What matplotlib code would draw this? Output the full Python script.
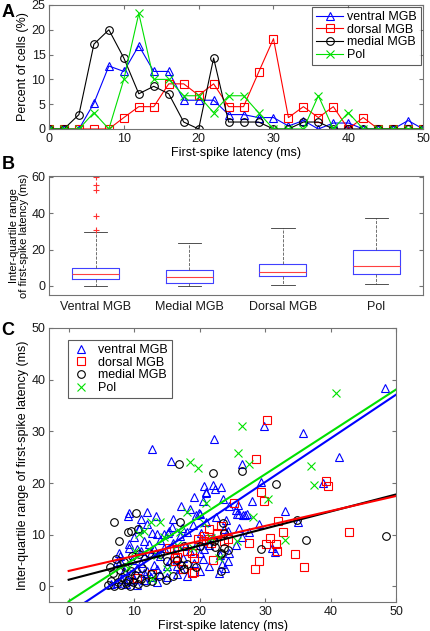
import numpy as np
import matplotlib
matplotlib.use("Agg")
import matplotlib.pyplot as plt

plt.rcParams['font.family'] = ['Liberation Sans', 'DejaVu Sans']
plt.rcParams['font.size'] = 9
plt.rcParams['axes.edgecolor'] = '0.45'
plt.rcParams['xtick.color'] = '0.45'
plt.rcParams['ytick.color'] = '0.45'
plt.rcParams['xtick.labelcolor'] = '0.1'
plt.rcParams['ytick.labelcolor'] = '0.1'
plt.rcParams['xtick.direction'] = 'in'
plt.rcParams['ytick.direction'] = 'in'
plt.rcParams['xtick.major.size'] = 3
plt.rcParams['ytick.major.size'] = 3
plt.rcParams['xtick.major.pad'] = 3
plt.rcParams['ytick.major.pad'] = 2.5

# ---------------- data ----------------
groups = ['ventral MGB', 'dorsal MGB', 'medial MGB', 'Pol']
colors = ['#0000ff', '#ff0000', '#000000', '#00e000']
markers = ['^', 's', 'o', 'x']

# Panel A: latency histogram (% of cells)
latency_bins = [0, 2, 4, 6, 8, 10, 12, 14, 16, 18, 20, 22, 24, 26, 28, 30,
                32, 34, 36, 38, 40, 42, 44, 46, 48, 50]
ventral_pct = [0, 0, 0, 5.2, 12.7, 11.6, 16.8, 11.6, 11.6, 5.8, 5.8, 5.8, 2.9,
               2.9, 2.3, 2.3, 0.6, 1.7, 0, 1.2, 1.2, 0, 0, 0, 1.7, 0]
dorsal_pct = [0, 0, 0, 0, 0, 2.3, 4.5, 4.5, 9.1, 9.1, 6.8, 9.1, 4.5,
              4.5, 11.4, 18.2, 2.3, 4.5, 2.3, 4.5, 0, 2.3, 0, 0, 0, 0]
medial_pct = [0, 0, 2.9, 17.1, 20.0, 14.3, 7.1, 8.6, 7.1, 1.4, 0, 14.3, 1.4,
              1.4, 1.4, 0, 0, 1.4, 1.4, 0, 0, 0, 0, 0, 0, 0]
pol_pct = [0, 0, 0, 3.3, 0, 10.0, 23.3, 10.0, 10.0, 6.7, 6.7, 3.3, 6.7,
           6.7, 3.3, 0, 0, 0, 6.7, 0, 3.3, 0, 0, 0, 0, 0]

# Panel B: box plot summary (ms)
box_labels = ['Ventral MGB', 'Medial MGB', 'Dorsal MGB', 'Pol']
box_q1 = [4.0, 1.8, 5.3, 6.3]
box_med = [6.3, 4.7, 7.9, 10.7]
box_q3 = [10.1, 8.7, 12.2, 19.5]
box_whislo = [0.0, -0.2, 0.7, 1.3]
box_whishi = [29.5, 23.4, 32.0, 37.2]
box_fliers = [[60.2, 55.8, 52.7, 38.3, 30.9], [], [], []]

# Panel C: latency vs IQR per cell
ventral_x = [12.8, 15.7, 22.2, 26.5, 22.1, 23.3, 22.3, 21.0, 29.9, 35.8, 41.3, 29.4,
             38.9, 48.3, 28.0, 27.2, 33.0, 35.0, 31.0, 31.5, 19.1, 20.9, 17.1, 19.9,
             19.4, 25.5, 26.0, 26.7, 15.8, 17.3, 23.7, 26.0, 20.2, 20.4, 23.1, 24.4,
             23.4, 20.5, 9.2, 10.7, 13.3, 13.5, 15.2, 9.2, 7.7, 7.8, 7.4, 20.7,
             9.0, 20.0, 10.7, 12.0, 12.8, 14.5, 15.3, 11.5, 12.2, 9.2, 10.5, 7.9,
             9.7, 11.5, 7.4, 8.7, 10.0, 11.5, 13.5, 15.0, 17.1, 19.1, 20.1, 16.1,
             17.8, 20.6, 14.0, 13.0, 25.9, 25.7, 26.9, 24.4, 23.9, 22.9, 6.5, 8.0,
             9.5, 10.5, 11.0, 12.0, 12.5, 13.0, 14.0, 15.5, 16.5, 17.5, 18.5, 19.5,
             21.5, 22.0, 12.5, 14.5, 16.0, 17.0, 18.0, 19.0, 21.0, 22.5, 24.0, 10.0,
             11.0, 8.5, 9.0, 10.5, 11.5, 13.5, 15.0, 16.5, 18.0, 20.0, 21.5, 24.5,
             25.5, 26.5, 27.5, 29.0, 14.0, 12.0, 11.0, 16.0, 18.5, 20.5, 23.5, 24.5]
ventral_y = [26.6, 24.3, 28.5, 23.7, 19.6, 19.3, 18.8, 18.3, 31.1, 29.6, 25.1, 20.3,
             20.0, 38.4, 16.6, 14.0, 14.6, 12.4, 7.5, 6.7, 17.4, 18.1, 15.6, 14.2,
             13.8, 14.8, 14.0, 13.8, 11.6, 11.4, 11.2, 11.4, 10.4, 9.1, 6.0, 4.9,
             4.4, 5.4, 14.3, 11.4, 13.6, 10.1, 10.4, 8.2, 6.5, 4.9, 4.7, 19.5,
             13.7, 14.0, 11.1, 12.0, 10.4, 10.1, 10.7, 8.8, 8.2, 7.4, 7.2, 5.9,
             5.2, 5.9, 0.7, 0.4, 1.4, 2.7, 3.3, 3.9, 3.3, 4.6, 6.5, 6.5,
             7.8, 7.2, 5.9, 7.2, 15.7, 14.0, 13.8, 10.7, 3.6, 2.7, 0.5, 1.5,
             2.5, 3.5, 4.5, 3.0, 1.8, 4.2, 2.5, 5.0, 4.0, 5.5, 6.8, 8.0,
             8.0, 9.5, 6.5, 7.5, 8.5, 9.8, 10.5, 11.8, 12.5, 13.5, 12.8, 9.5,
             6.8, 3.0, 1.0, 0.3, 1.2, 0.8, 1.8, 2.5, 2.0, 3.0, 4.0, 6.5,
             8.0, 9.5, 10.5, 12.0, 9.0, 14.5, 13.0, 13.0, 15.0, 16.5, 17.0, 15.5]

dorsal_x = [30.3, 28.6, 29.4, 39.3, 39.6, 29.8, 31.9, 32.8, 42.8, 27.6, 30.8, 30.1,
            31.6, 31.8, 34.5, 29.0, 28.5, 36.0, 25.3, 22.7, 19.8, 20.5, 22.1, 19.1,
            19.1, 16.3, 16.3, 23.3, 22.7, 24.3, 23.7, 16.6, 17.5, 18.9, 16.1, 18.1,
            18.9, 15.3, 20.7, 21.4, 21.7, 21.4, 10.5, 12.8]
dorsal_y = [32.2, 24.7, 18.3, 20.4, 19.4, 16.6, 12.6, 10.5, 10.5, 8.5, 9.3, 8.2,
            8.3, 6.9, 6.2, 5.0, 3.3, 3.7, 16.1, 10.3, 9.1, 8.7, 5.1, 5.6,
            2.8, 5.6, 4.9, 11.7, 10.1, 9.1, 8.8, 5.7, 3.3, 2.7, 7.2, 6.9,
            6.5, 7.5, 9.8, 9.1, 8.5, 11.1, 1.7, 2.5]

medial_x = [16.8, 22.0, 26.5, 31.6, 34.9, 48.5, 36.2, 29.4, 17.0, 23.6, 22.4, 23.7,
            24.3, 23.2, 23.2, 17.1, 17.6, 10.3, 7.0, 9.0, 7.7, 23.8, 23.3, 10.6,
            9.7, 10.7, 12.2, 14.0, 15.0, 16.6, 18.1, 19.4, 20.1, 22.2, 17.6, 9.5,
            6.0, 6.5, 7.0, 7.5, 8.0, 8.2, 8.7, 9.0, 9.3, 9.8, 10.2, 10.6,
            11.0, 11.8, 12.5, 6.8, 7.8, 8.6, 9.5, 11.2, 12.8, 13.8, 7.2, 8.4,
            6.3, 14.8, 16.0]
medial_y = [23.6, 21.9, 22.4, 19.9, 12.8, 9.8, 8.9, 7.2, 12.4, 12.2, 7.7, 7.5,
            7.0, 6.5, 3.0, 4.1, 3.4, 14.2, 12.4, 10.6, 8.8, 10.4, 6.2, 11.2,
            5.9, 6.2, 6.5, 6.2, 4.9, 5.2, 4.3, 3.8, 7.8, 8.8, 7.8, 10.7,
            0.3, 1.0, 0.0, 0.8, 0.2, 1.8, 0.6, 1.3, 0.1, 0.9, 2.2, 0.4,
            1.5, 0.8, 2.5, 2.6, 3.2, 3.8, 3.0, 3.6, 1.0, 2.0, 5.3, 4.8,
            3.8, 1.2, 2.0]

pol_x = [18.5, 19.7, 26.5, 25.9, 27.6, 37.0, 37.5, 40.8, 28.2, 21.0, 20.7, 21.7,
         25.7, 12.5, 14.0, 10.7, 11.5, 13.5, 15.0, 16.5, 12.8, 10.2, 17.0, 19.0,
         23.0, 14.5, 9.0, 30.5, 33.0, 18.0]
pol_y = [24.0, 22.9, 31.0, 25.8, 23.7, 23.3, 19.6, 37.4, 13.5, 16.1, 12.2, 9.3,
         8.8, 12.4, 12.4, 10.1, 10.8, 6.0, 3.3, 8.0, 1.4, 6.9, 10.5, 7.5,
         5.5, 9.5, 3.5, 17.0, 9.0, 14.5]

# linear fits (slope, intercept) per group
fit_slope = [0.846, 0.29, 0.33, 0.82]
fit_intercept = [-5.2, 3.0, 1.3, -2.9]

fig = plt.figure(figsize=(4.3, 6.31), dpi=100)

# -------- Panel A --------
axA = fig.add_axes([0.114, 0.7956, 0.870, 0.1965])
for pct, c, m, lab in zip([ventral_pct, dorsal_pct, medial_pct, pol_pct],
                          colors, markers, groups):
    axA.plot(latency_bins, pct, color=c, marker=m, markersize=5.5, linewidth=0.8,
             markerfacecolor='none', markeredgewidth=0.8, label=lab)
axA.set_xlim(0, 50)
axA.set_ylim(0, 25)
axA.set_xticks([0, 10, 20, 30, 40, 50])
axA.set_yticks([0, 5, 10, 15, 20, 25])
axA.tick_params(top=True, right=True)
axA.set_xlabel("First-spike latency (ms)", labelpad=1)
axA.set_ylabel("Percent of cells (%)", labelpad=2)
legA = axA.legend(loc='upper right', fancybox=False, edgecolor='0.2', borderaxespad=0.2,
                  handlelength=2.2, labelspacing=0.05, borderpad=0.3, handletextpad=0.3)
legA.get_frame().set_linewidth(0.8)

# -------- Panel B --------
axB = fig.add_axes([0.114, 0.5325, 0.870, 0.1886])
stats = []
for i in range(4):
    stats.append(dict(q1=box_q1[i], med=box_med[i], q3=box_q3[i],
                      whislo=box_whislo[i], whishi=box_whishi[i], fliers=box_fliers[i]))
axB.bxp(stats, positions=[1, 2, 3, 4], widths=0.5, showfliers=True,
        boxprops=dict(color='#4040ff', linewidth=0.8),
        medianprops=dict(color='#ff4040', linewidth=0.8),
        whiskerprops=dict(color='0.35', linestyle='--', linewidth=0.6),
        capprops=dict(color='0.2', linewidth=0.6), capwidths=0.25,
        flierprops=dict(marker='+', markeredgecolor='#ff3030', markersize=5, markeredgewidth=0.8))
axB.set_xlim(0.5, 4.5)
axB.set_ylim(-5, 60.5)
axB.set_yticks([0, 20, 40, 60])
axB.set_xticks([1, 2, 3, 4])
axB.set_xticklabels(box_labels)
axB.tick_params(axis='x', length=0, pad=4)
axB.tick_params(axis='y', right=True)
axB.set_ylabel("Inter-quartile range\nof first-spike latency (ms)", linespacing=1.0,
               labelpad=2, fontsize=8)

# -------- Panel C --------
axC = fig.add_axes([0.114, 0.0460, 0.807, 0.4342])
for xs, ys, c, m, lab in zip([ventral_x, dorsal_x, medial_x, pol_x],
                             [ventral_y, dorsal_y, medial_y, pol_y],
                             colors, markers, groups):
    axC.plot(xs, ys, linestyle='none', marker=m, color=c, markersize=5.5,
             markerfacecolor='none', markeredgewidth=0.8, label=lab)
line_x = np.array([0, 50])
for k in [0, 3, 2, 1]:
    axC.plot(line_x, fit_slope[k] * line_x + fit_intercept[k], color=colors[k], linewidth=1.5)
axC.set_xlim(-3, 50)
axC.set_ylim(-3, 50)
axC.set_xticks([0, 10, 20, 30, 40, 50])
axC.set_yticks([0, 10, 20, 30, 40, 50])
axC.tick_params(top=True, right=True)
axC.set_xlabel("First-spike latency (ms)", labelpad=1)
axC.set_ylabel("Inter-quartile range of first-spike latency (ms)", labelpad=2)
legC = axC.legend(loc='upper left', bbox_to_anchor=(0.055, 0.955), fancybox=False,
                  edgecolor='0.2', numpoints=1, handlelength=1.5, labelspacing=0.05,
                  borderpad=0.3, handletextpad=0.6, borderaxespad=0)
legC.get_frame().set_linewidth(0.8)

# panel letters
fig.text(0.003, 0.993, 'A', fontsize=13, fontweight='bold', va='top', ha='left')
fig.text(0.003, 0.752, 'B', fontsize=13, fontweight='bold', va='top', ha='left')
fig.text(0.003, 0.489, 'C', fontsize=13, fontweight='bold', va='top', ha='left')

fig.savefig("out.png", dpi=100)
